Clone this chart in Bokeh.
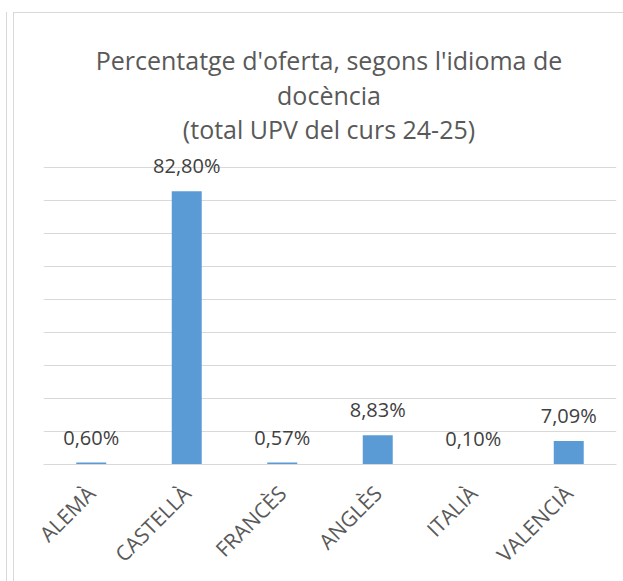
import math
from bokeh.plotting import figure
from bokeh.models import (ColumnDataSource, FactorRange, Range1d, FixedTicker,
                          LabelSet, Label)
from bokeh.core.properties import value
from bokeh.embed import file_html
from bokeh.resources import INLINE

categories = ["ALEMÀ", "CASTELLÀ", "FRANCÈS", "ANGLÈS", "ITALIÀ", "VALENCIÀ"]
values = [0.60, 82.80, 0.57, 8.83, 0.10, 7.09]
value_labels = [f"{v:.2f}".replace(".", ",") + "%" for v in values]
title_lines = ["Percentatge d'oferta, segons l'idioma de", "docència",
               "(total UPV del curs 24-25)"]
y_ticks = list(range(0, 100, 10))

FONT = "Open Sans"
TEXT = "#595959"
GRID = "#d9d9d9"
BAR = "#5b9bd5"

W, H = 623, 581
ML, MR, MB = 43, 7, 117
frame_h = H - MB                      # frame spans from canvas top to baseline
y_top = frame_h / 297.0 * 90          # 90 % sits 297 px above the baseline

src = ColumnDataSource(dict(cat=categories, val=values, lab=value_labels))

p = figure(width=W, height=H, output_backend="svg", toolbar_location=None,
           x_range=FactorRange(*categories, range_padding=0),
           y_range=Range1d(0, y_top),
           min_border_left=ML, min_border_right=MR,
           min_border_top=0, min_border_bottom=MB)
p.outline_line_color = None
p.background_fill_color = None
p.border_fill_color = None
line = f"linear-gradient({GRID},{GRID})"
p.styles = {
    "background": (f"{line} 6px 12px / 1px 100% no-repeat, "
                   f"{line} 13px 12px / 1px 100% no-repeat, "
                   f"{line} 13px 12px / 100% 1px no-repeat, white"),
}

p.vbar(x="cat", top="val", width=0.314, source=src,
       fill_color=BAR, line_color=None)

p.add_layout(LabelSet(x="cat", y="val", text="lab", source=src,
                      text_align="center", text_baseline="alphabetic",
                      y_offset=18, text_font=value(FONT),
                      text_font_size=value("20px"),
                      text_color=value("#404040")))

p.yaxis.visible = False
p.ygrid.ticker = FixedTicker(ticks=y_ticks)
p.ygrid.grid_line_color = GRID
p.ygrid.grid_line_width = 1
p.xgrid.visible = False

ax = p.xaxis[0]
ax.axis_line_color = GRID
ax.major_tick_line_color = None
ax.minor_tick_line_color = None
ax.major_tick_out = 0
ax.major_tick_in = 0
ax.major_label_orientation = math.pi / 4
ax.major_label_standoff = 25
ax.major_label_text_font = FONT
ax.major_label_text_font_size = "21px"
ax.major_label_text_color = TEXT

# title lines (screen units, measured from the frame's bottom-left corner)
cx = 328.5 - ML
for t, by in zip(title_lines, [59.3, 94.3, 128.3]):
    p.add_layout(Label(x=cx, y=frame_h - by, x_units="screen",
                       y_units="screen", text=t, text_align="center",
                       text_baseline="alphabetic", text_font=FONT,
                       text_font_size="25px", text_color=TEXT))

open("out.html", "w").write(file_html(p, INLINE))
